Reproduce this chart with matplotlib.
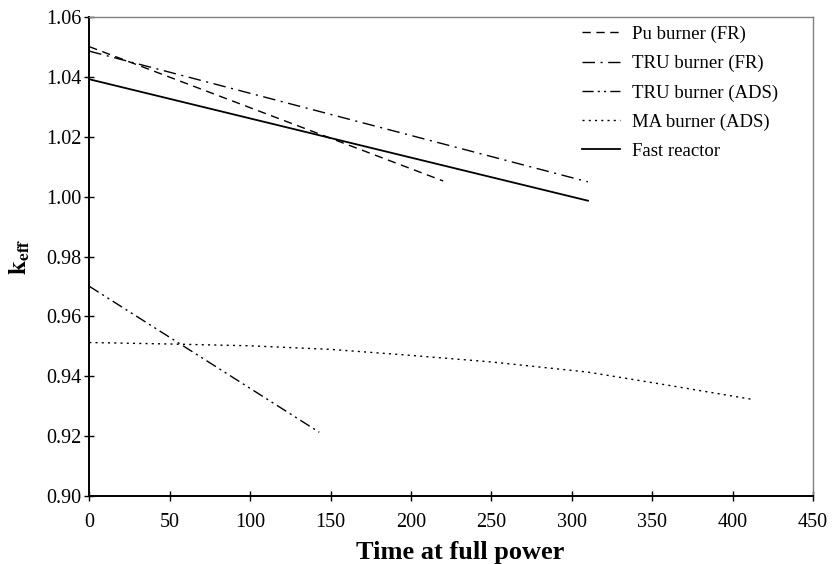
import matplotlib
matplotlib.use("Agg")
import matplotlib.pyplot as plt

plt.rcParams["font.family"] = ["Liberation Serif", "DejaVu Serif"]
plt.rcParams["mathtext.fontset"] = "stix"

# data (time at full power, k_eff)
pu_fr_t = [0, 220]
pu_fr_k = [1.0502, 1.0053]

tru_fr_t = [0, 310]
tru_fr_k = [1.0487, 1.0050]

tru_ads_t = [0, 143]
tru_ads_k = [0.9701, 0.9213]

ma_ads_t = [0, 50, 100, 150, 200, 250, 310, 360, 412]
ma_ads_k = [0.9513, 0.9508, 0.9502, 0.9490, 0.9470, 0.9448, 0.9414, 0.9370, 0.9323]

fast_t = [0, 310]
fast_k = [1.0393, 0.9987]

labels = ["Pu burner (FR)", "TRU burner (FR)", "TRU burner (ADS)",
          "MA burner (ADS)", "Fast reactor"]

fig = plt.figure(figsize=(8.34, 5.64), dpi=100)
ax = fig.add_axes([0.107, 0.1206, 0.868, 0.8487])

ax.plot(pu_fr_t, pu_fr_k, color="black", lw=1.0, linestyle=(0, (6, 4)), label=labels[0])
ax.plot(tru_fr_t, tru_fr_k, color="black", lw=1.0, linestyle=(0, (9, 4, 1.5, 4)), label=labels[1])
ax.plot(tru_ads_t, tru_ads_k, color="black", lw=1.0,
        linestyle=(0, (8, 3, 1.5, 3, 1.5, 3)), label=labels[2])
ax.plot(ma_ads_t, ma_ads_k, color="black", lw=1.0, linestyle=(0, (1.5, 3)), label=labels[3])
ax.plot(fast_t, fast_k, color="black", lw=1.3, linestyle="-", label=labels[4])

ax.set_xlim(0, 450)
ax.set_ylim(0.90, 1.06)
ax.set_xticks(range(0, 451, 50))
ax.set_yticks([0.90, 0.92, 0.94, 0.96, 0.98, 1.00, 1.02, 1.04, 1.06])
ax.set_yticklabels(["%.2f" % v for v in ax.get_yticks()])

ax.spines["left"].set_linewidth(1.4)
ax.spines["bottom"].set_linewidth(1.4)
ax.spines["top"].set_color("#808080")
ax.spines["right"].set_color("#808080")
ax.spines["top"].set_linewidth(1.0)
ax.spines["right"].set_linewidth(1.0)
ax.tick_params(direction="inout", length=7.2, width=1.0, labelsize=14.5)
ax.tick_params(axis="x", pad=9)
ax.tick_params(axis="y", pad=2)

ax.set_xlabel("Time at full power", fontsize=19, fontweight="bold")
ax.xaxis.set_label_coords(0.513, -0.095)
ax.set_ylabel(r"$\mathbf{k_{eff}}$", fontsize=18, labelpad=10)

ax.legend(loc="upper left", bbox_to_anchor=(0.657, 1.018), frameon=False,
          fontsize=13.5, handlelength=2.03, handletextpad=0.64, labelspacing=0.64)

fig.savefig("out.png", dpi=100)
